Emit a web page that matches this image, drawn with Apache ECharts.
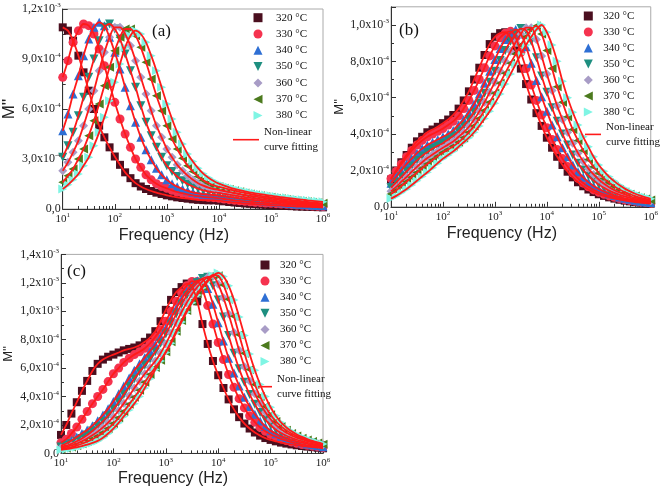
<!DOCTYPE html>
<html><head><meta charset="utf-8">
<script src="https://cdn.jsdelivr.net/npm/echarts@6/dist/echarts.min.js"></script>
<style>html,body{margin:0;padding:0;background:#fff}#c{width:661px;height:492px}</style>
</head><body><div id="c"></div>
<script>
// Frequencies (Hz), 10 points per decade
const freq = [10,12.6,15.8,20,25.1,31.6,39.8,50.1,63.1,79.4,
  100,126,158,200,251,316,398,501,631,794,
  1000,1260,1580,2000,2510,3160,3980,5010,6310,7940,
  10000,12600,15800,20000,25100,31600,39800,50100,63100,79400,
  100000,126000,158000,200000,251000,316000,398000,501000,631000,794000,1000000];
const temps = ['320 °C','330 °C','340 °C','350 °C','360 °C','370 °C','380 °C'];
const fitName = 'Non-linear\ncurve fitting';
const UNIT = 1e-4; // values below are in units of 10^-4
const xMajorTicks = [10,100,1000,10000,100000,1000000];
const xMinorTicks = [20,30,40,50,60,70,80,90,200,300,400,500,600,700,800,900,
  2000,3000,4000,5000,6000,7000,8000,9000,20000,30000,40000,50000,60000,70000,80000,90000,
  200000,300000,400000,500000,600000,700000,800000,900000];
const yTicksA = [0,3,6,9,12];
const yTicksB = [0,2,4,6,8,10];
const yTicksC = [0,2,4,6,8,10,12,14];

// Panel (a)
const a320 = [10.9,10.7,10.1,9.2,8.2,7.1,6.0,5.0,4.3,3.7,
  3.15,2.65,2.2,1.85,1.55,1.35,1.2,1.08,0.98,0.9,
  0.82,0.76,0.7,0.66,0.62,0.58,0.55,0.53,0.52,0.52,
  0.5,0.46,0.42,0.39,0.36,0.33,0.31,0.29,0.27,0.25,
  0.23,0.21,0.2,0.18,0.17,0.15,0.14,0.13,0.12,0.11,0.1];
const a330 = [7.9,8.9,10.0,10.7,11.1,11.0,10.5,9.6,8.6,7.5,
  6.4,5.4,4.5,3.7,3.0,2.5,2.05,1.75,1.52,1.35,
  1.24,1.12,1.02,0.95,0.88,0.82,0.77,0.73,0.7,0.68,
  0.64,0.6,0.56,0.52,0.49,0.46,0.43,0.4,0.38,0.36,
  0.34,0.32,0.3,0.28,0.26,0.24,0.22,0.2,0.18,0.16,0.15];
const a340 = [4.7,5.7,6.9,8.0,9.2,10.2,10.9,11.2,11.0,10.3,
  9.4,8.4,7.3,6.2,5.2,4.3,3.55,2.95,2.45,2.05,
  1.75,1.52,1.34,1.2,1.09,1.0,0.94,0.89,0.86,0.84,
  0.8,0.76,0.72,0.68,0.64,0.6,0.56,0.53,0.5,0.47,
  0.44,0.41,0.38,0.35,0.32,0.29,0.27,0.25,0.23,0.21,0.19];
const a350 = [3.1,3.8,4.6,5.6,6.7,7.9,9.0,10.1,10.9,11.1,
  10.8,10.2,9.3,8.3,7.3,6.2,5.2,4.4,3.7,3.1,
  2.6,2.25,1.95,1.7,1.5,1.35,1.22,1.12,1.05,1.0,
  0.96,0.91,0.86,0.81,0.76,0.71,0.67,0.63,0.59,0.55,
  0.52,0.48,0.45,0.42,0.39,0.36,0.33,0.3,0.28,0.26,0.24];
const a360 = [2.3,2.8,3.4,4.1,5.0,6.0,7.1,8.3,9.4,10.3,
  10.9,10.9,10.5,9.8,8.9,7.9,6.9,5.9,5.0,4.3,
  3.6,3.1,2.65,2.3,2.0,1.75,1.55,1.4,1.28,1.2,
  1.14,1.08,1.02,0.96,0.9,0.84,0.79,0.74,0.69,0.65,
  0.61,0.57,0.53,0.49,0.46,0.43,0.4,0.37,0.34,0.32,0.3];
const a370 = [1.6,2.0,2.4,3.0,3.6,4.4,5.3,6.3,7.4,8.5,
  9.5,10.3,10.8,10.8,10.4,9.7,8.8,7.8,6.8,5.9,
  5.0,4.2,3.6,3.05,2.6,2.25,1.95,1.72,1.55,1.42,
  1.33,1.25,1.17,1.1,1.03,0.96,0.9,0.84,0.79,0.74,
  0.7,0.65,0.61,0.57,0.53,0.5,0.46,0.43,0.4,0.37,0.35];
const a380 = [1.2,1.45,1.75,2.1,2.6,3.1,3.8,4.6,5.5,6.5,
  7.6,8.7,9.7,10.4,10.7,10.5,10.0,9.2,8.3,7.3,
  6.3,5.4,4.6,3.9,3.3,2.85,2.45,2.12,1.88,1.68,
  1.52,1.4,1.3,1.21,1.13,1.06,1.0,0.94,0.89,0.84,
  0.8,0.75,0.71,0.67,0.63,0.59,0.56,0.52,0.49,0.46,0.43];

// Panel (b)
const b320 = [1.5,2.0,2.45,2.85,3.25,3.6,3.85,4.1,4.25,4.4,
  4.6,4.8,5.05,5.4,5.85,6.35,7.0,7.65,8.35,8.95,
  9.35,9.55,9.6,9.3,8.6,7.6,6.75,5.9,5.15,4.45,
  3.8,3.25,2.75,2.3,1.93,1.62,1.35,1.13,0.95,0.81,
  0.69,0.6,0.52,0.45,0.39,0.34,0.3,0.26,0.23,0.2,0.17];
const b330 = [1.55,1.95,2.35,2.75,3.1,3.4,3.65,3.85,4.0,4.15,
  4.3,4.5,4.7,5.0,5.4,5.85,6.4,7.0,7.65,8.3,
  8.85,9.3,9.55,9.65,9.3,8.5,7.6,6.7,5.85,5.05,
  4.35,3.7,3.15,2.65,2.22,1.86,1.56,1.3,1.1,0.93,
  0.8,0.69,0.6,0.52,0.45,0.39,0.34,0.3,0.26,0.23,0.2];
const b340 = [1.3,1.65,2.0,2.35,2.65,2.95,3.2,3.4,3.55,3.7,
  3.85,4.0,4.2,4.5,4.8,5.2,5.65,6.2,6.8,7.45,
  8.1,8.7,9.2,9.55,9.75,9.5,8.8,7.9,6.95,6.05,
  5.25,4.5,3.85,3.25,2.75,2.3,1.93,1.62,1.36,1.15,
  0.98,0.84,0.72,0.62,0.54,0.47,0.41,0.36,0.31,0.27,0.23];
const b350 = [1.05,1.35,1.65,1.95,2.25,2.55,2.8,3.0,3.2,3.35,
  3.5,3.7,3.9,4.15,4.45,4.8,5.2,5.7,6.25,6.85,
  7.45,8.05,8.6,9.1,9.5,9.8,9.7,9.1,8.2,7.2,
  6.3,5.45,4.7,4.0,3.4,2.85,2.4,2.02,1.7,1.44,
  1.22,1.04,0.89,0.77,0.66,0.57,0.49,0.42,0.36,0.31,0.27];
const b360 = [0.85,1.1,1.38,1.65,1.93,2.2,2.45,2.68,2.88,3.07,
  3.25,3.42,3.6,3.85,4.1,4.4,4.8,5.25,5.75,6.3,
  6.85,7.45,8.0,8.55,9.05,9.5,9.85,9.85,9.2,8.3,
  7.3,6.4,5.55,4.8,4.1,3.5,2.95,2.5,2.1,1.78,
  1.5,1.27,1.08,0.92,0.79,0.68,0.58,0.5,0.43,0.37,0.32];
const b370 = [0.7,0.9,1.13,1.38,1.63,1.88,2.12,2.35,2.57,2.78,
  2.98,3.15,3.33,3.55,3.8,4.1,4.45,4.85,5.3,5.75,
  6.25,6.8,7.35,7.9,8.4,8.9,9.35,9.75,9.95,9.5,
  8.6,7.6,6.6,5.75,4.95,4.25,3.65,3.1,2.6,2.2,
  1.85,1.56,1.32,1.12,0.95,0.81,0.69,0.59,0.5,0.43,0.37];
const b380 = [0.45,0.6,0.78,0.98,1.2,1.43,1.67,1.9,2.15,2.4,
  2.65,2.85,3.05,3.3,3.55,3.8,4.1,4.45,4.85,5.25,
  5.7,6.2,6.75,7.3,7.85,8.4,8.9,9.35,9.75,10.0,
  9.6,8.9,8.0,6.9,6.0,5.2,4.5,3.85,3.3,2.75,
  2.3,1.95,1.65,1.4,1.18,1.0,0.85,0.72,0.61,0.52,0.44];

// Panel (c)
const c320 = [1.3,2.0,2.8,3.6,4.4,5.1,5.8,6.3,6.6,6.8,
  6.95,7.1,7.25,7.35,7.45,7.6,7.85,8.15,8.6,9.3,
  10.1,10.8,11.35,11.7,11.95,11.75,10.7,9.1,7.7,6.5,
  5.5,4.6,3.8,3.1,2.55,2.1,1.75,1.47,1.25,1.08,
  0.95,0.85,0.76,0.69,0.63,0.57,0.52,0.48,0.44,0.4,0.36];
const c330 = [0.75,1.0,1.4,1.85,2.4,2.95,3.5,4.0,4.5,5.05,
  5.6,6.0,6.4,6.7,6.95,7.15,7.4,7.75,8.2,8.7,
  9.3,10.0,10.7,11.3,11.8,12.1,12.1,11.5,10.4,9.1,
  7.8,6.6,5.55,4.65,3.85,3.2,2.65,2.2,1.83,1.55,
  1.33,1.16,1.02,0.9,0.8,0.71,0.63,0.57,0.51,0.46,0.41];
const c340 = [0.55,0.7,0.9,1.15,1.4,1.65,1.95,2.3,2.7,3.15,
  3.65,4.2,4.75,5.3,5.85,6.3,6.75,7.2,7.65,8.2,
  8.8,9.5,10.2,10.85,11.4,11.85,12.15,12.25,11.6,10.5,
  9.2,7.9,6.7,5.65,4.75,3.95,3.3,2.75,2.28,1.9,
  1.6,1.38,1.2,1.06,0.94,0.84,0.75,0.67,0.6,0.53,0.47];
const c350 = [0.45,0.55,0.68,0.85,1.05,1.3,1.58,1.9,2.25,2.65,
  3.1,3.6,4.15,4.7,5.25,5.75,6.2,6.65,7.15,7.75,
  8.4,9.1,9.8,10.5,11.1,11.6,12.0,12.3,12.4,11.8,
  10.8,9.6,8.3,7.05,5.95,5.0,4.15,3.45,2.87,2.38,
  1.98,1.67,1.43,1.24,1.09,0.96,0.85,0.76,0.67,0.6,0.53];
const c360 = [0.38,0.46,0.56,0.69,0.85,1.04,1.27,1.53,1.83,2.17,
  2.57,3.02,3.52,4.05,4.6,5.1,5.6,6.05,6.5,7.05,
  7.7,8.45,9.2,9.95,10.6,11.2,11.7,12.1,12.4,12.45,
  11.9,10.95,9.8,8.5,7.25,6.1,5.1,4.2,3.5,2.9,
  2.4,2.0,1.7,1.46,1.27,1.11,0.98,0.87,0.77,0.68,0.6];
const c370 = [0.3,0.37,0.45,0.55,0.68,0.83,1.0,1.2,1.45,1.75,
  2.1,2.5,2.95,3.45,3.95,4.45,5.0,5.55,6.05,6.55,
  7.15,7.85,8.6,9.35,10.05,10.7,11.25,11.75,12.2,12.55,
  12.5,11.85,10.85,9.65,8.35,7.05,5.9,4.85,4.0,3.3,
  2.72,2.25,1.9,1.62,1.4,1.22,1.07,0.94,0.83,0.73,0.64];
const c380 = [0.25,0.3,0.36,0.43,0.52,0.62,0.74,0.88,1.1,1.4,
  1.75,2.15,2.6,3.05,3.5,4.0,4.6,5.25,5.9,6.5,
  7.1,7.75,8.5,9.25,9.95,10.6,11.15,11.65,12.1,12.5,
  12.7,12.45,11.8,10.8,9.6,8.3,7.0,5.85,4.85,4.0,
  3.25,2.65,2.18,1.82,1.55,1.33,1.16,1.01,0.88,0.77,0.67];

const panelA = [a320,a330,a340,a350,a360,a370,a380];
const panelB = [b320,b330,b340,b350,b360,b370,b380];
const panelC = [c320,c330,c340,c350,c360,c370,c380];

const SYMBOLS = ['rect','circle','triangle','path://M0,0L10,0L5,10Z','diamond','path://M10,0L10,10L0,5Z','path://M0,0L0,10L10,5Z'];
const COLORS = ['#4a0f1f','#f5334f','#2e6fd4','#1e8f80','#a89cc6','#4c7a1e','#7ff5e4'];
const SIZES = [8,9,9,9,9,9,9];
const FIT = '#ff1a1a';

const serif = 'Liberation Serif';
const sans = 'Liberation Sans';

const grids = [
  {left:61, top:9, width:262, height:200},
  {left:391, top:6.8, width:262, height:200},
  {left:61, top:254.4, width:262, height:199}
].map(g => Object.assign({show:true, borderColor:'#aaa', borderWidth:1, backgroundColor:'transparent'}, g));

const richX = {
  b:{fontFamily:serif, fontSize:11, color:'#222'},
  s:{fontFamily:serif, fontSize:7, color:'#222', padding:[0,0,7,0]}
};
const richY = {
  b:{fontFamily:serif, fontSize:12, color:'#222'},
  s:{fontFamily:serif, fontSize:7, color:'#222', padding:[0,0,7,0]}
};

function xFmt(v){
  const e = Math.round(Math.log10(v));
  if (!xMajorTicks.some(t => Math.abs(t - v) / t < 1e-6)) return '';
  return '{b|10}{s|' + e + '}';
}
function yFmtFor(ticks){
  return function(v){
    const n = Math.round(v / UNIT * 100) / 100;
    if (!ticks.some(t => Math.abs(t - n) < 1e-6)) return '';
    if (n === 0) return '{b|0,0}';
    if (n >= 10) return '{b|' + (n/10).toFixed(1).replace('.', ',') + 'x10}{s|-3}';
    return '{b|' + n.toFixed(1).replace('.', ',') + 'x10}{s|-4}';
  };
}

const xAxes = [];
const yAxes = [];
const yCfg = [
  {max:12e-4, interval:3e-4, ticks:yTicksA, nameSize:17, nameGap:42},
  {max:11e-4, interval:2e-4, ticks:yTicksB, nameSize:13, nameGap:43},
  {max:14e-4, interval:2e-4, ticks:yTicksC, nameSize:13, nameGap:46}
];
const xNameGap = [19, 19, 17];
grids.forEach((g, i) => {
  xAxes.push({
    type:'log', logBase:10, gridIndex:i, min:10, max:1e6, position:'bottom',
    axisLine:{show:true, lineStyle:{color:'#333', width:1}},
    axisTick:{show:true, inside:true, length:5, lineStyle:{color:'#333'}},
    axisLabel:{formatter:xFmt, rich:richX, margin:3},
    splitLine:{show:false},
    name:'Frequency (Hz)', nameLocation:'middle', nameGap:xNameGap[i],
    nameTextStyle:{fontFamily:sans, fontSize:16, color:'#222', padding:[0,38,0,0]}
  });
  xAxes.push({
    type:'log', logBase:10, gridIndex:i, min:10, max:1e6, position:'top', offset:-g.height,
    axisLine:{show:false},
    axisTick:{show:true, inside:false, length:3, customValues:xMinorTicks, lineStyle:{color:'#333'}},
    axisLabel:{show:false},
    splitLine:{show:false}
  });
  const c = yCfg[i];
  yAxes.push({
    type:'value', gridIndex:i, min:0, max:c.max, interval:c.interval,
    axisLine:{show:true, lineStyle:{color:'#333', width:1}},
    axisTick:{show:true, inside:true, length:5, lineStyle:{color:'#333'}},
    minorTick:{show:true, splitNumber:2, length:3, lineStyle:{color:'#333'}},
    axisLabel:{formatter:yFmtFor(c.ticks), rich:richY, margin:2, showMaxLabel: i !== 1},
    splitLine:{show:false},
    name:"M''", nameLocation:'middle', nameGap:c.nameGap,
    nameTextStyle:{fontFamily:sans, fontSize:c.nameSize, color:'#222'}
  });
});

const series = [];
[panelA, panelB, panelC].forEach((panel, gi) => {
  panel.forEach((arr, k) => {
    series.push({
      type:'scatter', name:temps[k], xAxisIndex:gi*2, yAxisIndex:gi,
      data:freq.map((f, j) => [f, arr[j] * UNIT]),
      symbol:SYMBOLS[k], symbolSize:SIZES[k], itemStyle:{color:COLORS[k], opacity:1},
      z:2, silent:true, animation:false
    });
  });
  panel.forEach((arr) => {
    series.push({
      type:'line', name:fitName, xAxisIndex:gi*2, yAxisIndex:gi,
      data:freq.map((f, j) => [f, arr[j] * UNIT]),
      symbol:'none', showSymbol:false, smooth:0.3,
      lineStyle:{color:FIT, width:1.8}, itemStyle:{color:FIT},
      z:3, silent:true, animation:false
    });
  });
});

const legendText = {fontFamily:serif, fontSize:11, color:'#111'};
function markerLegend(left, top, gap, textPad){
  return {orient:'vertical', left:left, top:top, itemWidth:9, itemHeight:9, itemGap:gap, padding:0,
    selectedMode:false, symbolKeepAspect:true,
    data:temps.map((t, k) => ({name:t, icon:SYMBOLS[k], itemStyle:{color:COLORS[k]}})),
    textStyle:Object.assign({}, legendText, {padding:[0,0,0,textPad]})};
}
function fitLegend(left, top, w){
  return {orient:'vertical', left:left, top:top, itemWidth:w, itemHeight:1.6, padding:0,
    selectedMode:false,
    data:[{name:fitName, icon:'rect', itemStyle:{color:FIT, borderWidth:0}}],
    textStyle:Object.assign({}, legendText, {lineHeight:15, padding:[15,0,0,0]})};
}

const option = {
  animation:false,
  backgroundColor:'#fff',
  grid:grids,
  xAxis:xAxes,
  yAxis:yAxes,
  legend:[
    markerLegend(253.5, 12.2, 5.3, 8.5),
    fitLegend(233, 117.2, 26),
    markerLegend(583.8, 10.5, 5, 5.5),
    fitLegend(585, 111.9, 16),
    markerLegend(260.5, 259.5, 5.1, 5.5),
    fitLegend(258, 364.2, 14)
  ],
  graphic:[
    {type:'text', left:152, top:23, style:{text:'(a)', fontFamily:serif, fontSize:17, fill:'#111'}},
    {type:'text', left:399, top:22, style:{text:'(b)', fontFamily:serif, fontSize:17, fill:'#111'}},
    {type:'text', left:67, top:263, style:{text:'(c)', fontFamily:serif, fontSize:17, fill:'#111'}}
  ],
  series:series
};
const chart = echarts.init(document.getElementById('c'), null, {renderer:'canvas'});
chart.setOption(option);
</script>
</body></html>
